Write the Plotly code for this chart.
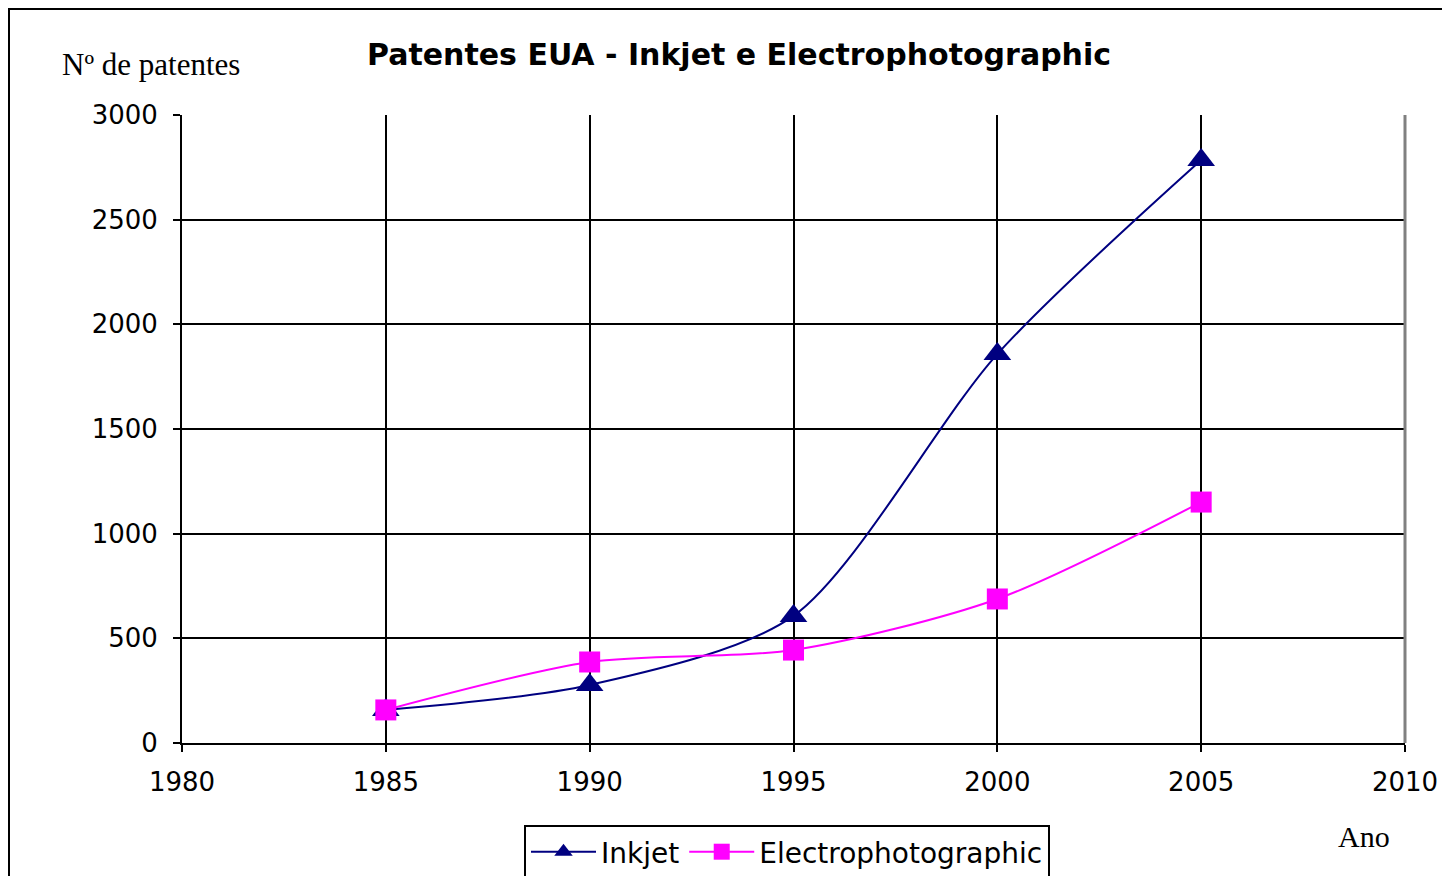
import plotly.graph_objects as go

years = [1985, 1990, 1995, 2000, 2005]
inkjet = [158, 277, 607, 1858, 2785]
electro = [158, 387, 444, 688, 1151]

x_ticks = [1980, 1985, 1990, 1995, 2000, 2005, 2010]
y_ticks = [0, 500, 1000, 1500, 2000, 2500, 3000]

OFF = 8  # browser body margin
W, H = 1450 - OFF, 876 - OFF
L, T = 182 - OFF, 115 - OFF
pw, ph = 1405 - 182, 743 - 115
R, B = W - L - pw, H - T - ph

SANS = "DejaVu Sans, Arial"
SERIF = "Liberation Serif, Times New Roman"


def px(xp):  # page x -> paper
    return (xp - OFF - L) / pw


def py(yp):  # page y -> paper
    return 1 - (yp - OFF - T) / ph


fig = go.Figure()
fig.add_trace(go.Scatter(
    x=years, y=inkjet, name="Inkjet", mode="lines+markers",
    line=dict(color="#000080", width=2, shape="spline", smoothing=0.8),
    marker=dict(symbol="triangle-up", size=24, color="#000080"),
))
fig.add_trace(go.Scatter(
    x=years, y=electro, name="Electrophotographic", mode="lines+markers",
    line=dict(color="#FF00FF", width=2, shape="spline", smoothing=0.8),
    marker=dict(symbol="square", size=21, color="#FF00FF"),
))

fig.update_layout(
    width=W, height=H,
    margin=dict(l=L, r=R, t=T, b=B, autoexpand=False),
    paper_bgcolor="white", plot_bgcolor="white",
    font=dict(family=SANS, color="black"),
    title=dict(text="<b>Patentes EUA - Inkjet e Electrophotographic</b>",
               x=(739 - OFF) / W, xanchor="center",
               y=1 - (54 - OFF) / H, yanchor="middle",
               font=dict(size=30, family=SANS)),
    showlegend=True,
    legend=dict(orientation="h", x=px(524), xanchor="left",
                y=py(825), yanchor="top",
                bordercolor="black", borderwidth=2,
                font=dict(size=28), tracegroupgap=0, itemwidth=65),
)

fig.update_xaxes(
    range=[1980, 2010], tickvals=x_ticks, ticktext=[str(v) for v in x_ticks],
    showgrid=True, gridcolor="black", gridwidth=2,
    showline=True, linecolor="black", linewidth=2,
    ticks="outside", ticklen=7, tickwidth=2, tickcolor="black",
    tickfont=dict(size=26), zeroline=False, ticklabelstandoff=8,
)
fig.update_yaxes(
    range=[0, 3000], tickvals=y_ticks, ticktext=[str(v) for v in y_ticks],
    showgrid=True, gridcolor="black", gridwidth=2,
    showline=True, linecolor="black", linewidth=2,
    ticks="outside", ticklen=7, tickwidth=2, tickcolor="black",
    tickfont=dict(size=26), zeroline=False, ticklabelstandoff=10,
)

# right plot-area edge in grey
fig.add_shape(type="line", xref="paper", yref="paper", x0=1, x1=1, y0=0, y1=1,
              line=dict(color="#808080", width=3), layer="above")
# outer chart frame
fig.add_shape(type="rect", xref="paper", yref="paper",
              x0=px(9), x1=px(1460), y0=py(890), y1=py(9),
              line=dict(color="black", width=2), layer="below")

fig.add_annotation(text="Nº de patentes", xref="paper", yref="paper",
                   x=px(60), xanchor="left", y=py(64), yanchor="middle",
                   showarrow=False, font=dict(family=SERIF, size=31))
fig.add_annotation(text="Ano", xref="paper", yref="paper",
                   x=px(1364), xanchor="center", y=py(836), yanchor="middle",
                   showarrow=False, font=dict(family=SERIF, size=30))

fig.write_html("out.html")
